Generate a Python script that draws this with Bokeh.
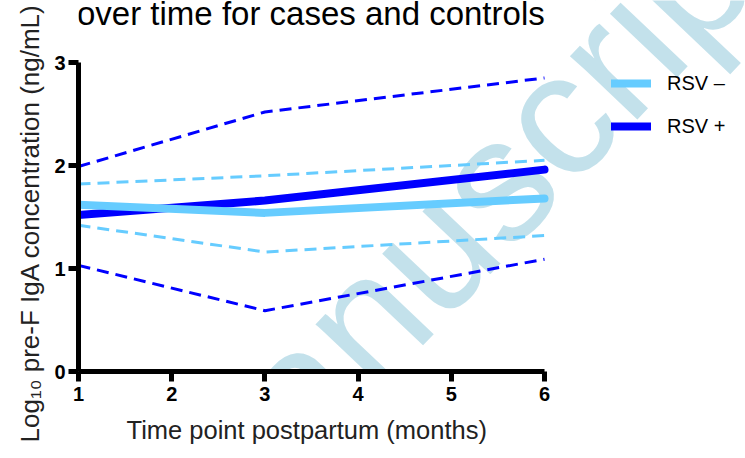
from bokeh.plotting import figure
from bokeh.models import Range1d, Label, Legend, LegendItem, FixedTicker, Title
from bokeh.embed import file_html
from bokeh.resources import INLINE

# ---- data ----
months = [1, 3, 6]
rsv_neg_mean = [1.62, 1.54, 1.68]
rsv_neg_upper = [1.82, 1.90, 2.05]
rsv_neg_lower = [1.42, 1.16, 1.32]
rsv_pos_mean = [1.52, 1.66, 1.96]
rsv_pos_upper = [1.99, 2.52, 2.85]
rsv_pos_lower = [1.03, 0.59, 1.09]

x_ticks = [1, 2, 3, 4, 5, 6]
y_ticks = [0, 1, 2, 3]
labels = ["RSV \u2013", "RSV +"]
title_text = "over time for cases and controls"
x_label = "Time point postpartum (months)"
y_label = "Log\u2081\u2080 pre-F IgA concentration (ng/mL)"
watermark = "Manuscript"

FONT = "Liberation Sans"
DARK = "#0000ff"
LIGHT = "#66ccff"

# frame extends right and up beyond the axes (axes use bounds)
FW, FH = 667, 371
PPU_X, PPU_Y = 93.2, 103.0

p = figure(frame_width=FW, frame_height=FH, output_backend="svg", title=None,
           toolbar_location=None,
           x_range=Range1d(1, 1 + FW / PPU_X), y_range=Range1d(0, FH / PPU_Y))
p.min_border_left = 78
p.min_border_right = 0
p.min_border_top = 0
p.min_border_bottom = 87
p.outline_line_color = None
p.background_fill_color = "white"
p.border_fill_color = "white"
p.grid.visible = False

# watermark beneath everything
wm = Label(x=1.91, y=-1.55, text=watermark, angle=0.8116, text_font=FONT,
           text_font_size="175px", text_color="#c3e1eb", text_baseline="alphabetic",
           level="underlay")
p.add_layout(wm)

# title (second line of the original, first line lies outside the picture)
tt = Label(x=0.984, y=3.476, text=title_text, text_font=FONT, text_font_size="33px",
           text_color="black", text_baseline="alphabetic")
p.add_layout(tt)

# dashed bounds
p.line(months, rsv_pos_upper, line_color=DARK, line_width=3, line_dash="12 7")
p.line(months, rsv_pos_lower, line_color=DARK, line_width=3, line_dash="12 7")
p.line(months, rsv_neg_upper, line_color=LIGHT, line_width=3, line_dash="12 7")
p.line(months, rsv_neg_lower, line_color=LIGHT, line_width=3, line_dash="12 7")

r_pos = p.line(months, rsv_pos_mean, line_color=DARK, line_width=8, line_cap="round", line_join="round")
r_neg = p.line(months, rsv_neg_mean, line_color=LIGHT, line_width=8, line_cap="round", line_join="round")

legend = Legend(items=[LegendItem(label=labels[0], renderers=[r_neg]),
                       LegendItem(label=labels[1], renderers=[r_pos])],
                location=(533, 230), glyph_width=40, glyph_height=30, spacing=13,
                padding=7, label_standoff=16, label_text_font=FONT,
                label_text_font_size="20px", label_text_color="black",
                border_line_color=None, background_fill_alpha=0)
p.add_layout(legend)

# axes
for ax in (p.xaxis[0], p.yaxis[0]):
    ax.axis_line_width = 5
    ax.axis_line_color = "black"
    ax.major_tick_line_width = 5
    ax.major_tick_line_color = "black"
    ax.major_tick_out = 10
    ax.major_tick_in = 0
    ax.minor_tick_line_color = None
    ax.major_label_text_font = FONT
    ax.major_label_text_font_style = "bold"
    ax.major_label_text_font_size = "20px"
    ax.major_label_text_color = "black"

p.xaxis.ticker = FixedTicker(ticks=x_ticks)
p.yaxis.ticker = FixedTicker(ticks=y_ticks)
p.xaxis.bounds = (1, 6)
p.yaxis.bounds = (0, 3)
p.xaxis.major_label_standoff = 5
p.yaxis.major_label_standoff = 3

xt = Title(text=x_label, align="left", offset=48, standoff=21, text_font=FONT,
           text_font_size="25.5px", text_font_style="normal", text_color="#222222")
p.add_layout(xt, "below")
yt = Title(text=y_label, align="left", offset=-71, standoff=14, text_font=FONT,
           text_font_size="26px", text_font_style="normal", text_color="#222222")
p.add_layout(yt, "left")

open("out.html", "w").write(file_html(p, INLINE))
